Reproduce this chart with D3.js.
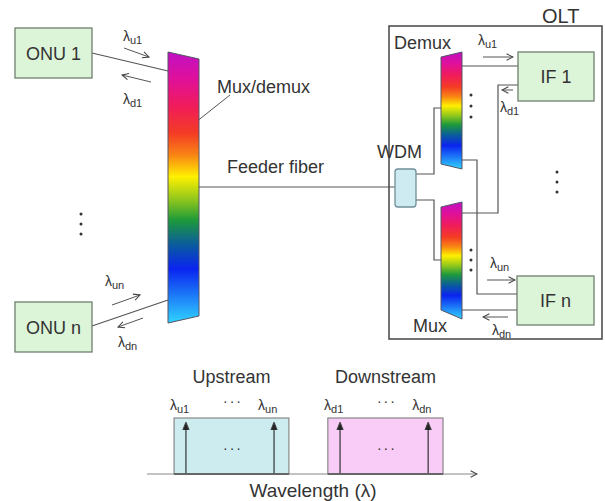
<!DOCTYPE html>
<html>
<head>
<style>
  body { margin: 0; background: #fff; }
  text { font-family: "Liberation Sans", Arial, sans-serif; fill: #333; }
</style>
<script src="https://cdn.jsdelivr.net/npm/d3@7/dist/d3.min.js"></script>
</head>
<body>
<svg width="605" height="501"></svg>
<script>
// labels and values
var onuLabels = ["ONU 1", "ONU n"];
var ifLabels = ["IF 1", "IF n"];
var blockLabels = ["Mux/demux", "Feeder fiber", "WDM", "Demux", "Mux", "OLT"];
var linkLabels = [["u1", "d1"], ["un", "dn"]];
var bandNames = ["Upstream", "Downstream"];
var bandRanges = [[0.82, 4.3], [5.48, 8.97]];       // wavelength units
var channelPos = [[1.18, 3.85], [5.85, 8.52]];
var channelNames = [["u1", "un"], ["d1", "dn"]];
var spectrumStops = [0, 0.1, 0.2, 0.3, 0.38, 0.46, 0.55, 0.62, 0.71, 0.8, 1];
var spectrumColors = ["#c010c4", "#e0109a", "#f01c5a", "#f43c24", "#f88414", "#fff000",
                      "#88c41e", "#1e9a3a", "#0a5c9c", "#0a24f0", "#30d4ff"];

var svg = d3.select("svg");
var defs = svg.append("defs");

var grad = defs.append("linearGradient").attr("id", "rainbow")
    .attr("x1", 0).attr("y1", 0).attr("x2", 0).attr("y2", 1);
grad.selectAll("stop").data(spectrumStops).enter().append("stop")
    .attr("offset", function(d) { return d; })
    .attr("stop-color", function(d, i) { return spectrumColors[i]; });

function marker(id, d, filled) {
  defs.append("marker").attr("id", id)
      .attr("viewBox", "0 0 10 10").attr("refX", 9).attr("refY", 5)
      .attr("markerWidth", 8).attr("markerHeight", 8)
      .attr("markerUnits", "userSpaceOnUse")
      .attr("orient", "auto")
    .append("path").attr("d", d)
      .attr("fill", filled ? "#222" : "none")
      .attr("stroke", "#444").attr("stroke-width", 1.3);
}
marker("open", "M1,1 L9,5 L1,9", false);
marker("solid", "M0,1 L10,5 L0,9 Z", true);

var line = d3.line();
var linkColor = "#555";

function path(pts, w) {
  svg.append("path").attr("d", line(pts))
     .attr("fill", "none").attr("stroke", linkColor).attr("stroke-width", w || 1.2);
}
function arrow(a, b) {
  svg.append("path").attr("d", line([a, b]))
     .attr("stroke", "#555").attr("stroke-width", 1).attr("marker-end", "url(#open)");
}
function lambda(x, y, sub, size) {
  size = size || 14;
  var t = svg.append("text").attr("x", x).attr("y", y).style("font-size", size + "px");
  t.append("tspan").text("\u03bb");
  t.append("tspan").attr("dy", 3).style("font-size", (size - 3) + "px").text(sub);
}
function label(x, y, s, size, anchor) {
  return svg.append("text").attr("x", x).attr("y", y)
     .attr("text-anchor", anchor || "start")
     .style("font-size", (size || 18) + "px").text(s);
}
function vdots(x, ys) {
  svg.selectAll(null).data(ys).enter().append("circle")
     .attr("cx", x).attr("cy", function(d) { return d; }).attr("r", 1.5).attr("fill", "#333");
}
function box(x, y, w, h, fill, stroke, text, rx) {
  svg.append("rect").attr("x", x).attr("y", y).attr("width", w).attr("height", h)
     .attr("rx", rx || 0)
     .attr("fill", fill).attr("stroke", stroke).attr("stroke-width", 1.3);
  if (text) label(x + w / 2, y + h / 2 + 6.5, text, 18, "middle");
}
function trap(pts) {
  svg.append("path").attr("d", line(pts) + "Z")
     .attr("fill", "url(#rainbow)").attr("stroke", "#556").attr("stroke-width", 1);
}

// ---- left side: ONUs and remote mux/demux ----
path([[92, 53], [168, 71]]);
path([[92, 326], [168, 300]]);
path([[230, 95], [196, 122]], 1);
path([[199, 187], [395, 187]]);

box(15, 28, 77, 50, "#dcf5d9", "#6f7f6f", onuLabels[0]);
box(15, 302, 77, 50, "#dcf5d9", "#6f7f6f", onuLabels[1]);
trap([[168, 52], [199, 59], [199, 316], [168, 323]]);

arrow([124, 48], [149, 57]);
arrow([151, 82], [122, 75]);
arrow([112, 305], [140, 295]);
arrow([143, 318], [118, 327]);
lambda(123, 41, linkLabels[0][0]);
lambda(123, 104, linkLabels[0][1]);
lambda(105, 286, linkLabels[1][0]);
lambda(118, 347, linkLabels[1][1]);

label(217, 93, blockLabels[0]);
label(227, 173, blockLabels[1]);
vdots(81, [214, 224, 234]);

// ---- OLT ----
svg.append("rect").attr("x", 389).attr("y", 26).attr("width", 213).attr("height", 313)
   .attr("fill", "none").attr("stroke", "#444").attr("stroke-width", 1.5);
label(542, 23, blockLabels[5], 20);
label(394, 49, blockLabels[3]);
label(377, 158, blockLabels[2]);
label(413, 332, blockLabels[4]);

path([[416, 174], [434, 174], [434, 108], [441, 108]]);
path([[416, 200], [434, 200], [434, 260], [441, 260]]);
path([[462, 66], [518, 66]]);
path([[462, 160], [477, 160], [477, 294], [517, 294]]);
path([[518, 85], [498, 85], [498, 213], [462, 213]]);
path([[462, 310], [517, 310]]);

box(395, 169, 21, 38, "#cdebf0", "#6f8f99", null, 3);
trap([[441, 57], [462, 52], [462, 169], [441, 164]]);
trap([[441, 207], [462, 202], [462, 319], [441, 310]]);
box(518, 52, 76, 49, "#dcf5d9", "#6f7f6f", ifLabels[0]);
box(517, 276, 77, 49, "#dcf5d9", "#6f7f6f", ifLabels[1]);

arrow([483, 57], [513, 57]);
arrow([513, 90], [502, 90]);
arrow([487, 280], [515, 280]);
arrow([508, 317], [483, 317]);
lambda(478, 45, linkLabels[0][0]);
lambda(500, 112, linkLabels[0][1]);
lambda(490, 268, linkLabels[1][0]);
lambda(492, 335, linkLabels[1][1]);

vdots(471, [95, 106, 117]);
vdots(471, [250, 260, 270]);
vdots(557, [172, 182, 192]);

// ---- spectrum ----
var x = d3.scaleLinear().domain([0, 10]).range([147, 477]);
var yBase = 474, yTop = 418;
var bandFill = ["#ccecef", "#f8ccf6"];

bandRanges.forEach(function(r, i) {
  svg.append("rect").attr("x", x(r[0])).attr("y", yTop)
     .attr("width", x(r[1]) - x(r[0])).attr("height", yBase - yTop)
     .attr("fill", bandFill[i]).attr("stroke", "#888").attr("stroke-width", 1.2);
  svg.append("line").attr("x1", x(r[0])).attr("x2", x(r[1]))
     .attr("y1", yBase).attr("y2", yBase).attr("stroke", "#222").attr("stroke-width", 1.5);
  var mid = (x(r[0]) + x(r[1])) / 2;
  label(mid, 383, bandNames[i], 18, "middle");
  label(mid, 453, "\u00b7 \u00b7 \u00b7", 14, "middle").style("letter-spacing", "-1px");
  label(mid, 406, "\u00b7 \u00b7 \u00b7", 14, "middle").style("letter-spacing", "-1px");
  channelPos[i].forEach(function(c, j) {
    svg.append("line").attr("x1", x(c)).attr("x2", x(c))
       .attr("y1", yBase).attr("y2", yTop + 5)
       .attr("stroke", "#333").attr("stroke-width", 1.2).attr("marker-end", "url(#solid)");
    lambda(x(c) - 16, 410, channelNames[i][j], 14);
  });
});

svg.append("line").attr("x1", x(0)).attr("x2", x(10))
   .attr("y1", yBase).attr("y2", yBase)
   .attr("stroke", "#888").attr("stroke-width", 1.2).attr("marker-end", "url(#open)");
label(313, 497, "Wavelength (\u03bb)", 19, "middle");
</script>
</body>
</html>
